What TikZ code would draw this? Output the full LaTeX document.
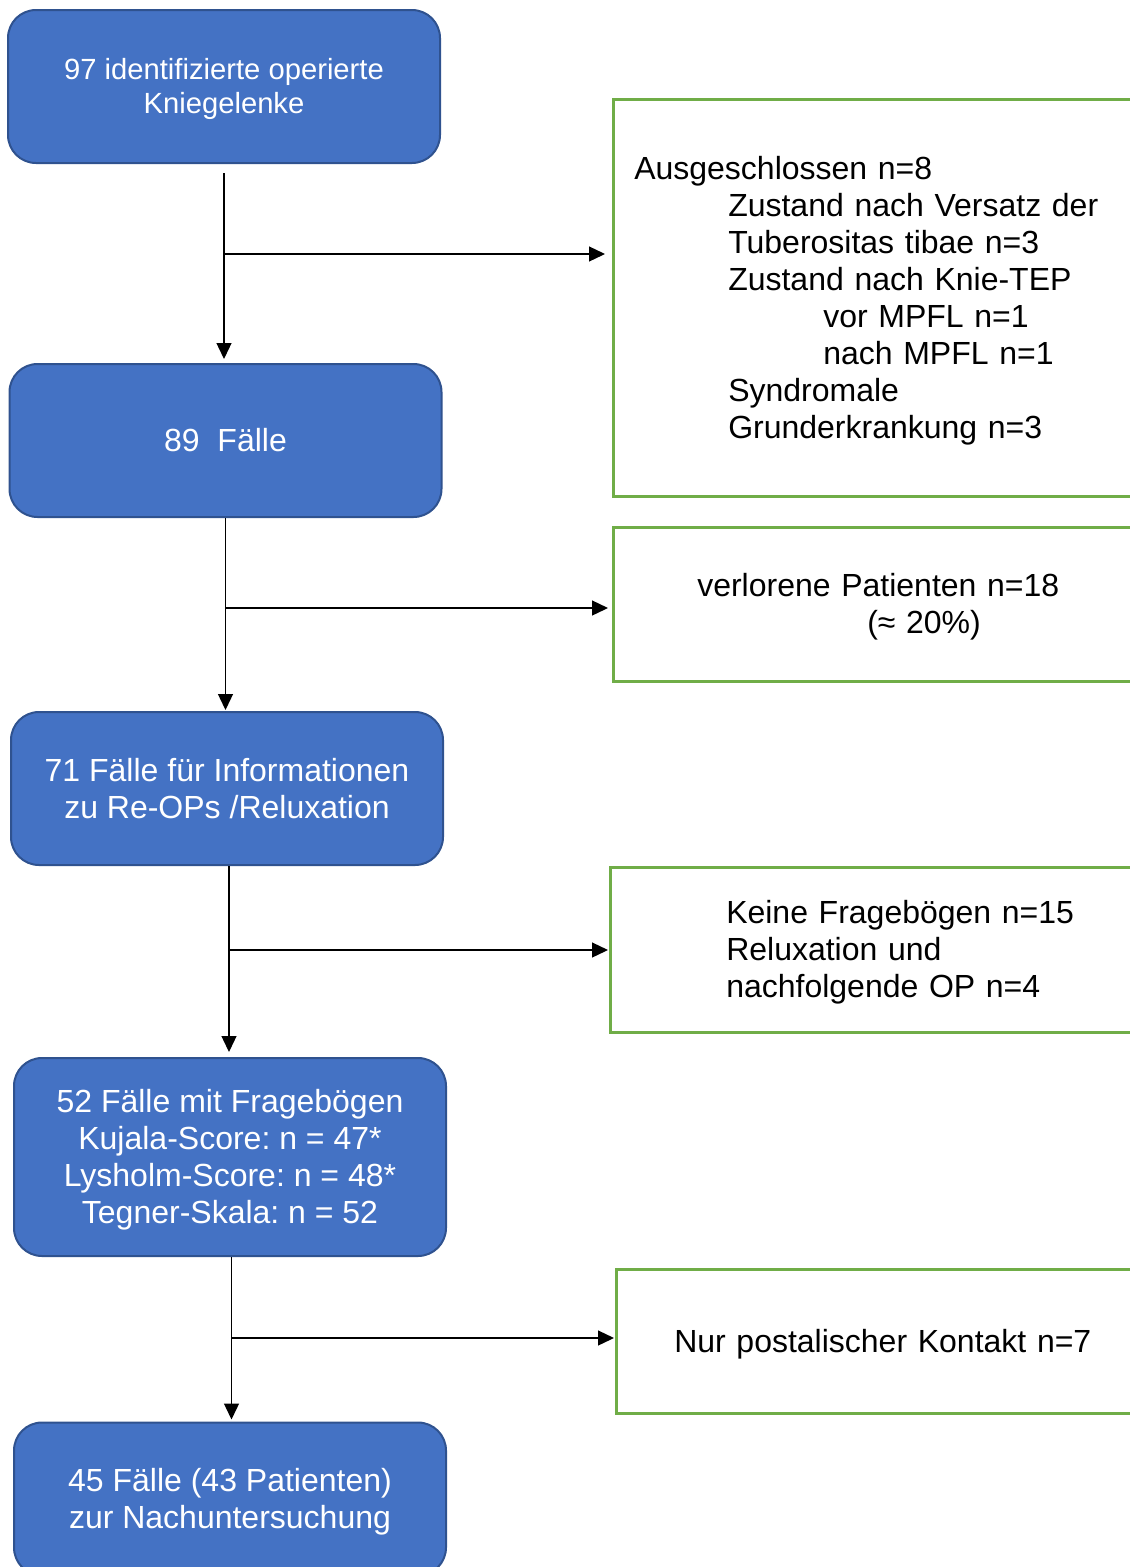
\documentclass[tikz,border=0pt]{standalone}
\usepackage{fontspec}
\setmainfont{Liberation Sans}
\usetikzlibrary{arrows.meta,calc}
\definecolor{boxblue}{HTML}{4472C4}
\definecolor{boxedge}{HTML}{2F528F}
\definecolor{boxgreen}{HTML}{70AD47}
\frenchspacing
% word-like line metrics (ascent / descent of Arial at 32pt and 29.2pt)
\newcommand\wtop{\rule{0pt}{29pt}}
\newcommand\wbot{\rule[-6.8pt]{0pt}{6.8pt}}
\newcommand\wtops{\rule{0pt}{26.4pt}}
\newcommand\wbots{\rule[-6.2pt]{0pt}{6.2pt}}
\begin{document}
\begin{tikzpicture}[x=1pt,y=-1pt,
  bluebox/.style={draw=boxedge, line width=2pt, fill=boxblue, rounded corners=28pt,
    text=white, align=center, minimum width=432pt, minimum height=153pt, inner sep=0pt,
    font=\fontsize{32}{37}\selectfont},
  greenbox/.style={draw=boxgreen, line width=2.5pt, anchor=north west, inner ysep=0pt,
    align=left, text width=600pt, font=\fontsize{32}{37}\selectfont},
  flow/.style={line width=1.3pt, -{Triangle[length=16pt,width=15pt]}}]
\useasboundingbox (0,0) rectangle (1130,1567);
\clip (0,0) rectangle (1130,1567);

% left (blue) boxes
\node[bluebox, font=\fontsize{29.2}{34}\selectfont] (b1) at (224,86.5)
  {\wtops97 identifizierte operierte\\Kniegelenke\wbots};
\node[bluebox] (b2) at (225.5,440.5) {\wtop89\ \ Fälle\wbot};
\node[bluebox] (b3) at (227,788.5) {\wtop71 Fälle für Informationen\\zu Re-OPs /Reluxation\wbot};
\node[bluebox, minimum height=198pt] (b4) at (230,1157)
  {\wtop52 Fälle mit Fragebögen\\Kujala-Score: n = 47*\\Lysholm-Score: n = 48*\\Tegner-Skala: n = 52\wbot};
\node[bluebox] (b5) at (230,1499) {\wtop45 Fälle (43 Patienten)\\zur Nachuntersuchung\wbot};

% right (green) boxes
\node[greenbox, inner xsep=21pt, minimum height=397pt] (r1) at (612,98)
  {\wtop Ausgeschlossen n=8\\
   \hspace*{94pt}Zustand nach Versatz der\\
   \hspace*{94pt}Tuberositas tibae n=3\\
   \hspace*{94pt}Zustand nach Knie-TEP\\
   \hspace*{189pt}vor MPFL n=1\\
   \hspace*{189pt}nach MPFL n=1\\
   \hspace*{94pt}Syndromale\\
   \hspace*{94pt}Grunderkrankung n=3\wbot};
\node[greenbox, inner xsep=84pt, minimum height=154pt] (r2) at (612,526)
  {\wtop verlorene Patienten n=18\\
   \hspace*{170pt}(≈ 20\%)\wbot};
\node[greenbox, inner xsep=116pt, minimum height=165pt] (r3) at (609,866)
  {\wtop Keine Fragebögen n=15\\Reluxation und\\nachfolgende OP n=4\wbot};
\node[greenbox, inner xsep=58pt, minimum height=144pt] (r4) at (615,1268)
  {\wtop Nur postalischer Kontakt n=7\wbot};

% junctions on the vertical flow lines
\coordinate (j1) at (224,254);
\coordinate (j2) at (225.5,608);
\coordinate (j3) at (229,950);
\coordinate (j4) at (231.5,1338);

% vertical flow
\draw[flow, shorten <=9pt, shorten >=4pt] (b1.south) -- (b1.south |- b2.north);
\draw[flow, shorten >=1pt] (b2.south) -- (b2.south |- b3.north);
\draw[flow, shorten >=5pt] (b3.south -| j3) -- (j3 |- b4.north);
\draw[flow, shorten >=2pt] (b4.south -| j4) -- (j4 |- b5.north);

% side flow
\draw[flow, shorten >=7pt] (j1) -- (j1 -| r1.west);
\draw[flow, shorten >=4pt] (j2) -- (j2 -| r2.west);
\draw[flow, shorten >=1pt] (j3) -- (j3 -| r3.west);
\draw[flow, shorten >=1pt] (j4) -- (j4 -| r4.west);
\end{tikzpicture}
\end{document}
